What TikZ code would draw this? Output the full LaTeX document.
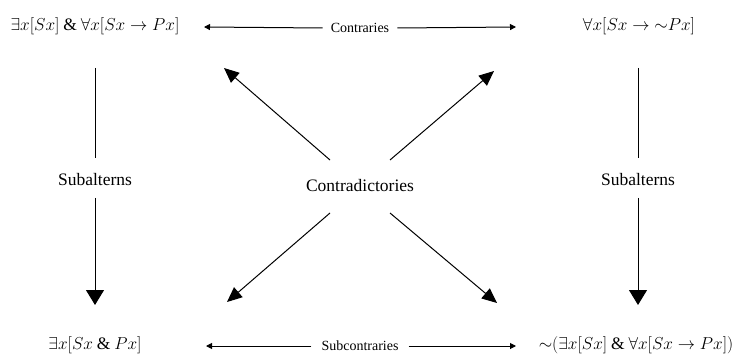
\documentclass[tikz,border=0pt]{standalone}
\usepackage{fontspec}
\setmainfont{Liberation Serif}
\usetikzlibrary{arrows.meta}
\tikzset{
  formula/.style={inner sep=0pt, font=\fontsize{17.5}{20}\selectfont},
  biglabel/.style={inner sep=0pt, font=\fontsize{17.5}{20}\selectfont},
  smalllabel/.style={inner sep=0pt, font=\fontsize{14}{16}\selectfont},
  thin arrow/.style={line width=1pt, -{Triangle[width=6pt,length=6pt]}},
  diag arrow/.style={line width=1pt, -{Triangle[width=13pt,length=15pt]}},
  vert arrow/.style={line width=1pt, -{Triangle[width=18pt,length=15pt]}},
  plain line/.style={line width=1pt}
}
\begin{document}
\begin{tikzpicture}[x=1pt,y=-1pt]
\useasboundingbox (0,0) rectangle (743,355);
% formulas
\node[formula] (A) at (95,26) {$\exists x[Sx]\mathbin{\&}\forall x[Sx\rightarrow Px]$};
\node[formula] (E) at (639,26) {$\forall x[Sx\rightarrow{\sim}Px]$};
\node[formula] (I) at (95,345) {$\exists x[Sx\mathbin{\&}Px]$};
\node[formula] (O) at (636,345) {${\sim}(\exists x[Sx]\mathbin{\&}\forall x[Sx\rightarrow Px])$};
% labels
\node[smalllabel] (ctr) at (360,28) {Contraries};
\node[smalllabel] (sub) at (360,346) {Subcontraries};
\node[biglabel] (sl) at (95,180) {Subalterns};
\node[biglabel] (sr) at (638,180) {Subalterns};
\node[biglabel] (cd) at (360,186) {Contradictories};
% coordinates
\coordinate (ctrL) at (204,27);
\coordinate (ctrR) at (516,27);
\coordinate (subL) at (206,346);
\coordinate (subR) at (516,346);
\coordinate (slT) at (95,68);
\coordinate (slA) at (95,158);
\coordinate (slB) at (95,198);
\coordinate (slE) at (95,305);
\coordinate (srT) at (638,68);
\coordinate (srA) at (638,158);
\coordinate (srB) at (638,198);
\coordinate (srE) at (638,305);
\coordinate (d1s) at (330,160);
\coordinate (d1e) at (224,68);
\coordinate (d2s) at (390,160);
\coordinate (d2e) at (494,71);
\coordinate (d3s) at (330,213);
\coordinate (d3e) at (227,302);
\coordinate (d4s) at (390,213);
\coordinate (d4e) at (497,303);
% connectors
\draw[thin arrow] ([xshift=-8pt]ctr.west) -- (ctrL);
\draw[thin arrow] ([xshift=8pt]ctr.east) -- (ctrR);
\draw[thin arrow] ([xshift=-10pt]sub.west) -- (subL);
\draw[thin arrow] ([xshift=10pt]sub.east) -- (subR);
\draw[plain line] (slT) -- (slA);
\draw[vert arrow] (slB) -- (slE);
\draw[plain line] (srT) -- (srA);
\draw[vert arrow] (srB) -- (srE);
\draw[diag arrow] (d1s) -- (d1e);
\draw[diag arrow] (d2s) -- (d2e);
\draw[diag arrow] (d3s) -- (d3e);
\draw[diag arrow] (d4s) -- (d4e);
\end{tikzpicture}
\end{document}
